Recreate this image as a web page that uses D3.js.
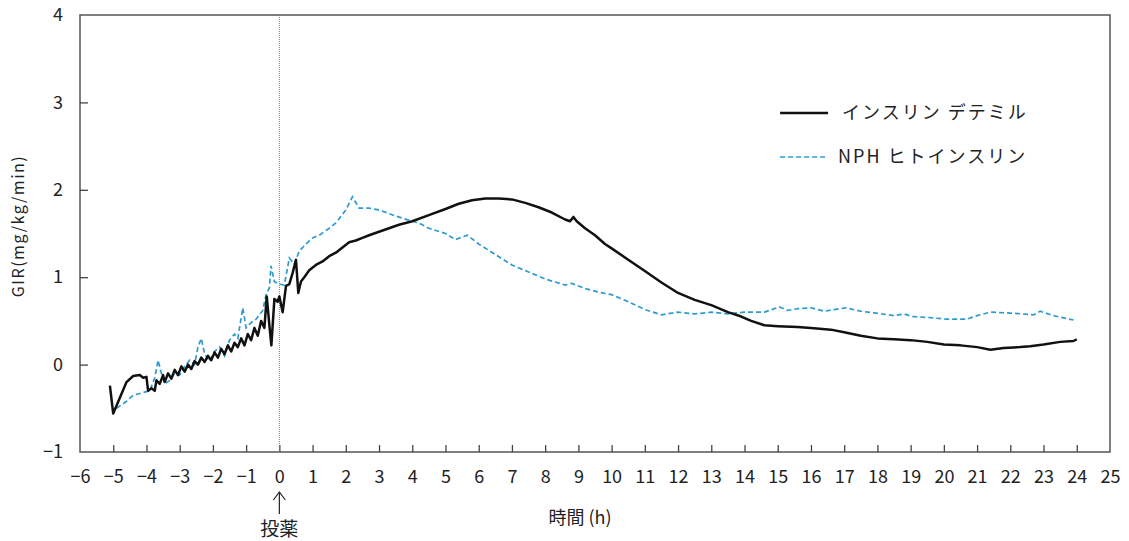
<!DOCTYPE html>
<html>
<head>
<meta charset="utf-8">
<script src="https://cdn.jsdelivr.net/npm/d3@7"></script>
<style>
  body { margin: 0; background: #fff; }
  svg text { font-family: "Noto Sans CJK JP", "Noto Sans", sans-serif; fill: #222; }
</style>
</head>
<body>
<svg id="chart" width="1129" height="541"></svg>
<script>
// [hours, GIR]
const detemir = [
  [-5.1,-0.24],[-5.0,-0.56],[-4.8,-0.38],[-4.6,-0.2],[-4.4,-0.13],[-4.2,-0.12],[-4.1,-0.15],[-4.0,-0.14],
  [-3.95,-0.3],[-3.85,-0.27],[-3.75,-0.3],[-3.7,-0.18],[-3.6,-0.22],[-3.5,-0.12],[-3.45,-0.2],[-3.35,-0.1],
  [-3.25,-0.16],[-3.15,-0.06],[-3.05,-0.12],[-2.95,-0.02],[-2.85,-0.08],[-2.75,0.0],[-2.65,-0.05],[-2.55,0.04],
  [-2.45,0.0],[-2.35,0.08],[-2.25,0.03],[-2.15,0.1],[-2.05,0.05],[-1.95,0.14],[-1.85,0.08],[-1.75,0.18],
  [-1.65,0.12],[-1.55,0.22],[-1.45,0.15],[-1.35,0.25],[-1.25,0.2],[-1.15,0.3],[-1.05,0.22],[-0.95,0.35],
  [-0.85,0.28],[-0.75,0.42],[-0.65,0.33],[-0.55,0.5],[-0.45,0.42],[-0.38,0.78],[-0.3,0.45],[-0.24,0.22],
  [-0.15,0.75],[-0.05,0.72],[0.0,0.78],[0.1,0.6],[0.2,0.9],[0.3,0.92],[0.4,1.05],[0.5,1.2],[0.57,0.82],
  [0.65,0.95],[0.75,1.0],[0.9,1.08],[1.1,1.14],[1.3,1.18],[1.5,1.24],[1.7,1.28],[1.9,1.34],[2.1,1.4],
  [2.3,1.42],[2.5,1.45],[2.7,1.48],[3.0,1.52],[3.3,1.56],[3.6,1.6],[4.0,1.64],[4.5,1.71],[5.0,1.78],
  [5.4,1.84],[5.8,1.88],[6.2,1.9],[6.6,1.9],[7.0,1.89],[7.4,1.85],[7.8,1.8],[8.2,1.74],[8.6,1.66],
  [8.75,1.64],[8.85,1.69],[8.95,1.64],[9.2,1.56],[9.5,1.48],[9.8,1.38],[10.0,1.33],[10.5,1.2],[11.0,1.07],
  [11.5,0.94],[12.0,0.82],[12.5,0.74],[13.0,0.68],[13.5,0.6],[13.9,0.55],[14.2,0.5],[14.6,0.45],[15.0,0.44],
  [15.6,0.43],[16.0,0.42],[16.6,0.4],[17.0,0.37],[17.5,0.33],[18.0,0.3],[18.5,0.29],[19.0,0.28],[19.5,0.26],
  [20.0,0.23],[20.5,0.22],[21.0,0.2],[21.4,0.17],[21.8,0.19],[22.3,0.2],[22.6,0.21],[23.0,0.23],[23.5,0.26],
  [23.9,0.27],[24.0,0.29]
];
const nph = [
  [-4.9,-0.5],[-4.6,-0.42],[-4.4,-0.35],[-4.1,-0.32],[-3.9,-0.3],[-3.75,-0.15],[-3.65,0.05],[-3.55,-0.1],
  [-3.45,-0.22],[-3.3,-0.18],[-3.15,-0.1],[-3.0,-0.12],[-2.85,-0.02],[-2.7,0.05],[-2.55,0.0],[-2.45,0.2],
  [-2.35,0.3],[-2.25,0.12],[-2.1,0.04],[-1.95,0.15],[-1.8,0.2],[-1.65,0.1],[-1.5,0.28],[-1.35,0.35],
  [-1.25,0.3],[-1.1,0.65],[-1.0,0.42],[-0.85,0.48],[-0.7,0.52],[-0.6,0.57],[-0.5,0.62],[-0.4,0.8],
  [-0.3,0.88],[-0.25,1.13],[-0.15,0.95],[0.0,0.92],[0.15,0.91],[0.3,1.22],[0.45,1.15],[0.6,1.3],[0.8,1.38],
  [1.0,1.45],[1.2,1.48],[1.5,1.56],[1.7,1.62],[2.0,1.77],[2.2,1.92],[2.4,1.79],[2.7,1.79],[3.0,1.77],
  [3.5,1.7],[4.0,1.64],[4.2,1.62],[4.5,1.56],[5.0,1.5],[5.3,1.43],[5.5,1.46],[5.66,1.48],[6.0,1.38],
  [6.5,1.26],[7.0,1.14],[7.5,1.06],[8.0,0.98],[8.6,0.91],[8.8,0.93],[9.2,0.87],[9.6,0.83],[10.0,0.8],
  [10.5,0.72],[11.0,0.63],[11.5,0.57],[12.0,0.6],[12.5,0.58],[13.0,0.6],[13.5,0.58],[14.0,0.6],[14.6,0.6],
  [15.05,0.66],[15.3,0.62],[15.6,0.64],[16.0,0.65],[16.4,0.61],[16.7,0.63],[17.06,0.65],[17.5,0.61],
  [17.96,0.59],[18.5,0.56],[18.8,0.58],[19.05,0.55],[19.5,0.54],[20.06,0.52],[20.7,0.52],[21.0,0.56],
  [21.4,0.6],[22.0,0.59],[22.7,0.57],[22.9,0.61],[23.3,0.56],[23.9,0.51]
];
const xTicks = d3.range(-6, 26);
const yTicks = [-1, 0, 1, 2, 3, 4];
const seriesNames = ["インスリン デテミル", "NPH ヒトインスリン"];

const svg = d3.select("#chart");
const margin = { top: 15, right: 19, bottom: 89, left: 80 };
const W = 1129, H = 541;
const innerW = W - margin.left - margin.right;
const innerH = H - margin.top - margin.bottom;
const g = svg.append("g").attr("transform", `translate(${margin.left},${margin.top})`);

const x = d3.scaleLinear().domain([-6, 25]).range([0, innerW]);
const y = d3.scaleLinear().domain([-1, 4]).range([innerH, 0]);
const fmt = d => d < 0 ? "\u2212" + Math.abs(d) : String(d);

// frame
g.append("rect").attr("width", innerW).attr("height", innerH)
  .attr("fill", "none").attr("stroke", "#555").attr("stroke-width", 1.5);

// x axis: ticks point inward, labels below
const xAxis = g.append("g").attr("transform", `translate(0,${innerH})`)
  .call(d3.axisBottom(x).tickValues(xTicks).tickSizeInner(-7).tickSizeOuter(0).tickPadding(18).tickFormat(fmt));
xAxis.select(".domain").remove();
xAxis.selectAll(".tick line").attr("stroke", "#444").attr("stroke-width", 1.3)
  .style("display", d => (d === -6 || d === 25) ? "none" : null);
xAxis.selectAll(".tick text").attr("font-size", 18).attr("fill", "#222")
  .style("font-family", "'Noto Sans CJK JP', sans-serif");

const yAxis = g.append("g")
  .call(d3.axisLeft(y).tickValues(yTicks).tickSizeInner(-8).tickSizeOuter(0).tickPadding(17).tickFormat(fmt));
yAxis.select(".domain").remove();
yAxis.selectAll(".tick line").attr("stroke", "#444").attr("stroke-width", 1.3)
  .style("display", d => (d === -1 || d === 4) ? "none" : null);
yAxis.selectAll(".tick text").attr("font-size", 18).attr("fill", "#222")
  .style("font-family", "'Noto Sans CJK JP', sans-serif");

// dosing line
g.append("line")
  .attr("x1", x(0)).attr("x2", x(0)).attr("y1", 0).attr("y2", innerH)
  .attr("stroke", "#777").attr("stroke-width", 1).attr("stroke-dasharray", "1,1");

const line = d3.line().x(d => x(d[0])).y(d => y(d[1]));

g.append("path").datum(nph)
  .attr("fill", "none").attr("stroke", "#2e9bd0").attr("stroke-width", 1.7)
  .attr("stroke-dasharray", "5,3").attr("d", line);
g.append("path").datum(detemir)
  .attr("fill", "none").attr("stroke", "#111").attr("stroke-width", 2.5)
  .attr("stroke-linejoin", "round").attr("d", line);

// legend
const leg = g.append("g").attr("transform", `translate(${x(15.07)},0)`);
leg.append("line").attr("x1", 0).attr("x2", 48).attr("y1", 98).attr("y2", 98)
  .attr("stroke", "#111").attr("stroke-width", 2.5);
leg.append("text").attr("x", 62).attr("y", 98).attr("dy", "0.35em")
  .attr("font-size", 18).attr("letter-spacing", 2).text(seriesNames[0]);
leg.append("line").attr("x1", 0).attr("x2", 48).attr("y1", 142).attr("y2", 142)
  .attr("stroke", "#2e9bd0").attr("stroke-width", 1.7).attr("stroke-dasharray", "5,3");
leg.append("text").attr("x", 58).attr("y", 142).attr("dy", "0.35em")
  .attr("font-size", 18).attr("letter-spacing", 2).text(seriesNames[1]);

// dosing marker under 0
const ax0 = margin.left + x(0);
svg.append("line").attr("x1", ax0).attr("x2", ax0).attr("y1", 493).attr("y2", 514)
  .attr("stroke", "#222").attr("stroke-width", 1.2);
svg.append("path").attr("d", `M${ax0 - 6},${500} L${ax0},${492} L${ax0 + 6},${500}`)
  .attr("fill", "none").attr("stroke", "#222").attr("stroke-width", 1.2);
svg.append("text").attr("x", ax0).attr("y", 529).attr("dy", "0.35em")
  .attr("text-anchor", "middle").attr("font-size", 19).text("投薬");

// axis titles
svg.append("text").attr("x", 580).attr("y", 518).attr("dy", "0.35em")
  .attr("text-anchor", "middle").attr("font-size", 18).text("時間 (h)");
svg.append("text").attr("transform", "translate(18,226) rotate(-90)")
  .attr("text-anchor", "middle").attr("dy", "0.35em")
  .attr("font-size", 16).attr("letter-spacing", 1.5).text("GIR(mg/kg/min)");
</script>
</body>
</html>
